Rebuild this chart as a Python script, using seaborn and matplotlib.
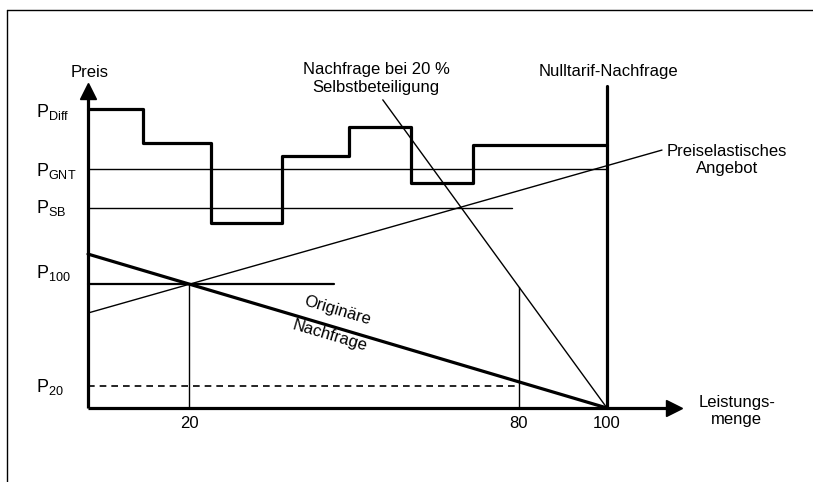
import numpy as np
import pandas as pd
import matplotlib
matplotlib.use("Agg")
import matplotlib.pyplot as plt
import seaborn as sns

# --- data (x: Leistungsmenge, y: Preis) ---
step_edges = [0, 10.6, 23.7, 37.4, 50.3, 62.2, 74.2, 100]
step_levels = [92.9, 82.4, 57.5, 78.4, 87.4, 70.0, 81.6]

price_names = ["Diff", "GNT", "SB", "100", "20"]
price_label_y = [91.9, 73.6, 62.0, 41.9, 6.5]
p_gnt, p_sb, p_100, p_20 = 74.1, 62.0, 38.5, 6.9
p_gnt_end, p_sb_end, p_100_end, p_20_end = 100, 81.7, 47.4, 83.0

orig_q = [0, 100]
orig_p = [47.8, 0]
angebot_q = [0, 110.6]
angebot_p = [29.5, 80.1]
sb_demand_q = [56.8, 100]
sb_demand_p = [95.7, 0]
nulltarif_q = 100
nulltarif_top = 100

q_ticks = [19.5, 83.0, 100]
q_tick_labels = ["20", "80", "100"]
q_drop_tops = [38.5, 37.7]

sns.set_theme(style="white")
plt.rcParams["font.family"] = ["Liberation Sans", "DejaVu Sans"]
plt.rcParams["mathtext.fontset"] = "custom"
plt.rcParams["mathtext.rm"] = "Liberation Sans"
plt.rcParams["text.color"] = "black"

fig = plt.figure(figsize=(8.13, 4.82), dpi=100)
ax = fig.add_axes([0, 0, 1, 1])
ax.set_xlim(-16.96, 139.7)
ax.set_ylim(-22.98, 126.7)
ax.axis("off")

thick = 2.3
thin = 1.0
fs = 12

# step function (Preisdifferenzierung)
sx, sy = [], []
for i, lev in enumerate(step_levels):
    sx += [step_edges[i], step_edges[i + 1]]
    sy += [lev, lev]
steps = pd.DataFrame({"q": sx, "p": sy})
sns.lineplot(data=steps, x="q", y="p", sort=False, estimator=None,
             color="black", lw=thick, ax=ax)

# horizontal price lines
for lev, end, lw, ls in [(p_gnt, p_gnt_end, thin, "-"), (p_sb, p_sb_end, thin, "-"),
                         (p_100, p_100_end, 1.6, "-"), (p_20, p_20_end, 1.2, (0, (4, 3)))]:
    ax.plot([0, end], [lev, lev], color="black", lw=lw, ls=ls)

# curves
sns.lineplot(x=orig_q, y=orig_p, color="black", lw=thick, ax=ax)
sns.lineplot(x=angebot_q, y=angebot_p, color="black", lw=thin, ax=ax)
sns.lineplot(x=sb_demand_q, y=sb_demand_p, color="black", lw=thin, ax=ax)
ax.plot([nulltarif_q, nulltarif_q], [0, nulltarif_top], color="black", lw=thick)

# drop lines at 20 and 80
for q, top in zip(q_ticks[:2], q_drop_tops):
    ax.plot([q, q], [0, top], color="black", lw=thin)

# axes with arrows
ax.plot([0, 0], [0, 98.3], color="black", lw=thick, solid_capstyle="butt")
ax.plot([0, 113.0], [0, 0], color="black", lw=thick, solid_capstyle="butt")
ax.plot([0], [98.3], marker="^", ms=12, color="black")
ax.plot([113.0], [0], marker=">", ms=12, color="black")

# frame (left and top)
ax.plot([-15.6, -15.6], [-23, 123.6], color="black", lw=1.0, clip_on=False)
ax.plot([-15.6, 140], [123.6, 123.6], color="black", lw=1.0, clip_on=False)

# labels
ax.text(0.4, 104.3, "Preis", ha="center", va="center", fontsize=fs)
for name, y in zip(price_names, price_label_y):
    ax.text(-10.0, y, r"$\mathregular{P_{%s}}$" % name, ha="left", va="center", fontsize=fs + 1)
for q, lab in zip(q_ticks, q_tick_labels):
    ax.text(q, -4.66, lab, ha="center", va="center", fontsize=fs)

ax.text(125, -0.9, "Leistungs-\nmenge", ha="center", va="center", fontsize=fs)
ax.text(55.5, 102.3, "Nachfrage bei 20 %\nSelbstbeteiligung", ha="center", va="center", fontsize=fs)
ax.text(100.2, 104.5, "Nulltarif-Nachfrage", ha="center", va="center", fontsize=fs)
ax.text(123.1, 77.0, "Preiselastisches\nAngebot", ha="center", va="center", fontsize=fs)
ax.text(48, 30.1, "Originäre", ha="center", va="center", rotation=-16.5, fontsize=fs)
ax.text(46.6, 22.4, "Nachfrage", ha="center", va="center", rotation=-16.5, fontsize=fs)

fig.savefig("out.png", dpi=100)
